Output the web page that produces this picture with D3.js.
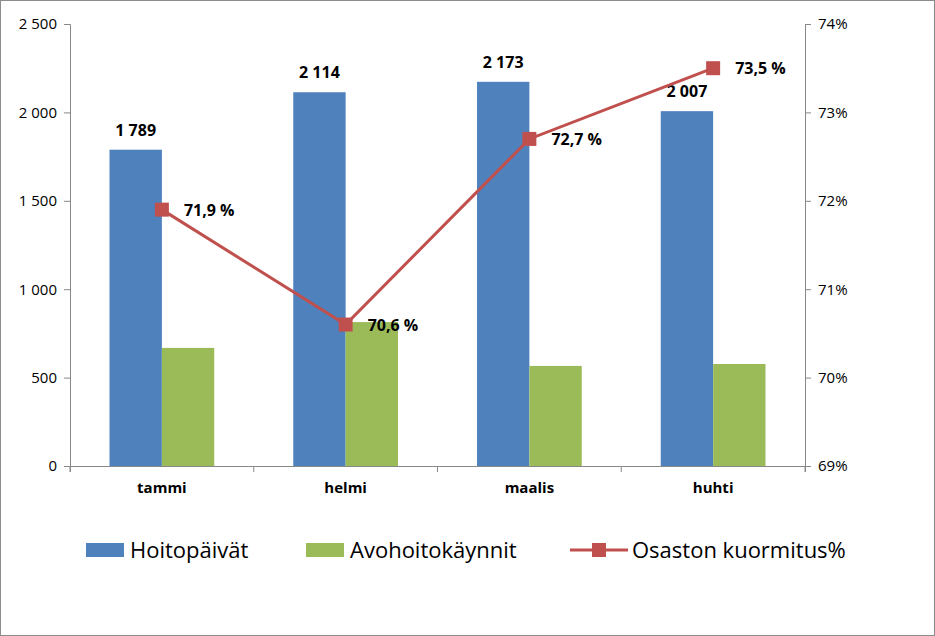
<!DOCTYPE html>
<html><head><meta charset="utf-8">
<script src="https://cdn.jsdelivr.net/npm/d3@7"></script>
<style>body{margin:0;background:#fff}svg{display:block}text{font-family:"Open Sans","Liberation Sans",sans-serif}</style>
</head><body><svg id="c" width="935" height="636"></svg>
<script>
const months = ["tammi", "helmi", "maalis", "huhti"];
const hoitopaivat = [1789, 2114, 2173, 2007];
const avohoito = [668, 814, 566, 577];
const kuormitus = [71.9, 70.6, 72.7, 73.5];
const leftTicks = [0, 500, 1000, 1500, 2000, 2500];
const rightTicks = [69, 70, 71, 72, 73, 74];

const svg = d3.select("#c");
const fmt = v => d3.format(",")(v).replace(/,/g, " ");
const m = { left: 70, right: 805, top: 24, bottom: 466 };

svg.append("rect").attr("x", 0.5).attr("y", 0.5).attr("width", 934).attr("height", 635)
  .attr("fill", "#fff").attr("stroke", "#8c8c8c");

const x = d3.scaleBand().domain(months).range([m.left, m.right]);
const y = d3.scaleLinear().domain([0, 2500]).range([m.bottom, m.top]);
const y2 = d3.scaleLinear().domain([69, 74]).range([m.bottom, m.top]);
const barW = x.bandwidth() * 0.285;

// Axes
const axL = svg.append("g").attr("transform", `translate(${m.left},0)`)
  .call(d3.axisLeft(y).tickValues(leftTicks).tickSize(6).tickFormat(fmt));
const axR = svg.append("g").attr("transform", `translate(${m.right},0)`)
  .call(d3.axisRight(y2).tickValues(rightTicks).tickSize(6).tickFormat(d => d + "%"));
const axB = svg.append("g").attr("transform", `translate(0,${m.bottom})`)
  .call(d3.axisBottom(x).tickSize(6));
axB.selectAll(".tick line").attr("transform", `translate(${-x.bandwidth() / 2},0)`);
axB.append("line").attr("x1", m.right).attr("x2", m.right).attr("y1", 0).attr("y2", 6).attr("stroke", "#888");
[axL, axR, axB].forEach(a => {
  a.selectAll("path,line").attr("stroke", "#888");
  a.selectAll("text").attr("fill", "#000").attr("font-size", 15);
});
axL.selectAll("text").attr("dx", -4);
axR.selectAll("text").attr("dx", 4);
axB.selectAll("text").attr("font-weight", "bold").attr("dy", "1.2em");

// Bars
svg.selectAll(".b1").data(months).join("rect")
  .attr("x", d => x(d) + x.bandwidth() / 2 - barW).attr("width", barW)
  .attr("y", (d, i) => y(hoitopaivat[i])).attr("height", (d, i) => m.bottom - y(hoitopaivat[i]))
  .attr("fill", "#4f81bd");
svg.selectAll(".b2").data(months).join("rect")
  .attr("x", d => x(d) + x.bandwidth() / 2).attr("width", barW)
  .attr("y", (d, i) => y(avohoito[i])).attr("height", (d, i) => m.bottom - y(avohoito[i]))
  .attr("fill", "#9bbb59");
svg.selectAll(".l1").data(months).join("text")
  .attr("x", d => x(d) + x.bandwidth() / 2 - barW / 2).attr("y", (d, i) => y(hoitopaivat[i]) - 14)
  .attr("text-anchor", "middle").attr("font-size", 16).attr("font-weight", "bold")
  .text((d, i) => fmt(hoitopaivat[i]));

// Line
const cx = d => x(d) + x.bandwidth() / 2;
svg.append("path").datum(months)
  .attr("d", d3.line().x(cx).y((d, i) => y2(kuormitus[i])))
  .attr("fill", "none").attr("stroke", "#c0504d").attr("stroke-width", 3);
svg.selectAll(".pt").data(months).join("rect")
  .attr("x", d => cx(d) - 7).attr("y", (d, i) => y2(kuormitus[i]) - 7)
  .attr("width", 14).attr("height", 14).attr("fill", "#c0504d");
svg.selectAll(".l2").data(months).join("text")
  .attr("x", d => cx(d) + 22).attr("y", (d, i) => y2(kuormitus[i]) + 6)
  .attr("font-size", 16).attr("font-weight", "bold")
  .text((d, i) => d3.format(".1f")(kuormitus[i]).replace(".", ",") + " %");

// Legend
const lg = svg.append("g").attr("transform", "translate(0,550)");
lg.append("rect").attr("x", 86).attr("y", -7).attr("width", 38).attr("height", 14).attr("fill", "#4f81bd");
lg.append("text").attr("x", 130).attr("y", 8).attr("font-size", 22).text("Hoitopäivät");
lg.append("rect").attr("x", 306).attr("y", -7).attr("width", 38).attr("height", 14).attr("fill", "#9bbb59");
lg.append("text").attr("x", 350).attr("y", 8).attr("font-size", 22).text("Avohoitokäynnit");
lg.append("line").attr("x1", 570).attr("x2", 628).attr("stroke", "#c0504d").attr("stroke-width", 3);
lg.append("rect").attr("x", 592).attr("y", -7).attr("width", 14).attr("height", 14).attr("fill", "#c0504d");
lg.append("text").attr("x", 632).attr("y", 8).attr("font-size", 22).text("Osaston kuormitus%");
</script></body></html>
